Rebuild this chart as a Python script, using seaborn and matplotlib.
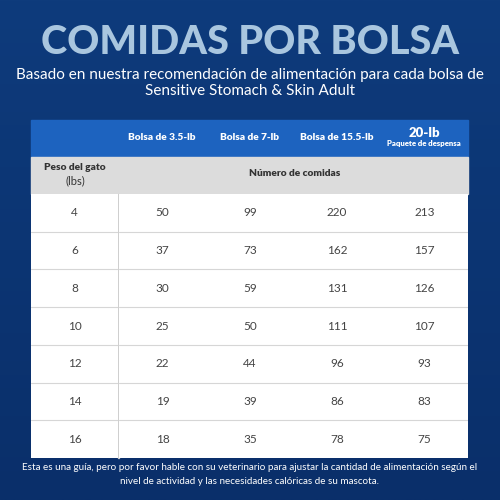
import matplotlib
matplotlib.use("Agg")
import matplotlib.pyplot as plt
import seaborn as sns
import numpy as np
import pandas as pd
from matplotlib.patches import Rectangle
from matplotlib.colors import LinearSegmentedColormap

weights = [4, 6, 8, 10, 12, 14, 16]
bags = ["Bolsa de 3.5-lb", "Bolsa de 7-lb", "Bolsa de 15.5-lb", "20-lb"]
bag_3_5 = [50, 37, 30, 25, 22, 19, 18]
bag_7 = [99, 73, 59, 50, 44, 39, 35]
bag_15_5 = [220, 162, 131, 111, 96, 86, 78]
bag_20 = [213, 157, 126, 107, 93, 83, 75]

sns.set_theme(style="white")
plt.rcParams['font.family'] = ['Lato', 'DejaVu Sans']

W = H = 500
fig = plt.figure(figsize=(5, 5), dpi=100)
bgax = fig.add_axes([0, 0, 1, 1])
grad = np.linspace(0, 1, 256).reshape(-1, 1)
cm = LinearSegmentedColormap.from_list("bg", ["#0e3b7c", "#0a2f6a"])
bgax.imshow(grad, aspect="auto", cmap=cm, extent=[0, W, H, 0])
bgax.set_xlim(0, W); bgax.set_ylim(H, 0); bgax.axis("off")

bgax.text(250, 43, "COMIDAS POR BOLSA", color="#a9c6df", fontsize=28.5,
          fontweight="black", ha="center", va="center")
bgax.text(250, 75, "Basado en nuestra recomendación de alimentación para cada bolsa de",
          color="white", fontsize=11, ha="center", va="center")
bgax.text(250, 91, "Sensitive Stomach & Skin Adult", color="white", fontsize=11,
          ha="center", va="center")

bgax.add_patch(Rectangle((31, 120), 437, 37, color="#1d63bf"))
bgax.add_patch(Rectangle((31, 157), 437, 37, color="#dcdcdc"))
colw = 87.5
for i, b in enumerate(bags):
    cx = 118 + colw * (i + 0.5)
    if i < 3:
        bgax.text(cx, 137, b, color="white", fontsize=7.3, fontweight="heavy", ha="center", va="center")
    else:
        bgax.text(cx, 133, b, color="white", fontsize=9.5, fontweight="heavy", ha="center", va="center")
        bgax.text(cx, 143.5, "Paquete de despensa", color="white", fontsize=5.6, fontweight="heavy",
                  ha="center", va="center")
bgax.text(75, 168, "Peso del gato", color="#333333", fontsize=7.3, fontweight="heavy", ha="center", va="center")
bgax.text(75, 181, "(lbs)", color="#333333", fontsize=8, ha="center", va="center")
bgax.text(295, 174, "Número de comidas", color="#333333", fontsize=7.3, fontweight="heavy",
          ha="center", va="center")

bgax.text(250, 468, "Esta es una guía, pero por favor hable con su veterinario para ajustar la cantidad de alimentación según el",
          color="white", fontsize=7.1, ha="center", va="center")
bgax.text(250, 481, "nivel de actividad y las necesidades calóricas de su mascota.",
          color="white", fontsize=7.1, ha="center", va="center")

top, bot = 194, 458
df = pd.DataFrame({bags[0]: bag_3_5, bags[1]: bag_7, bags[2]: bag_15_5, bags[3]: bag_20}, index=weights)
ax1 = fig.add_axes([31 / W, 1 - bot / H, 87 / W, (bot - top) / H])
sns.heatmap(pd.DataFrame({"w": weights}), ax=ax1, cmap=["white"], cbar=False, annot=True, fmt="d",
            annot_kws={"color": "#444444", "fontsize": 8.5}, linewidths=0)
ax2 = fig.add_axes([119 / W, 1 - bot / H, 349 / W, (bot - top) / H])
sns.heatmap(df, ax=ax2, cmap=["white"], cbar=False, annot=True, fmt="d",
            annot_kws={"color": "#444444", "fontsize": 8.5}, linewidths=0)
for a in (ax1, ax2):
    a.set_xticks([]); a.set_yticks([]); a.set_xlabel(""); a.set_ylabel("")
    for k in range(1, 7):
        a.axhline(k, color="#d6d6d6", lw=0.8)
bgax.add_patch(Rectangle((118, 194), 1, 264, color="#cfcfcf", zorder=5))

fig.savefig("out.png", dpi=100)
